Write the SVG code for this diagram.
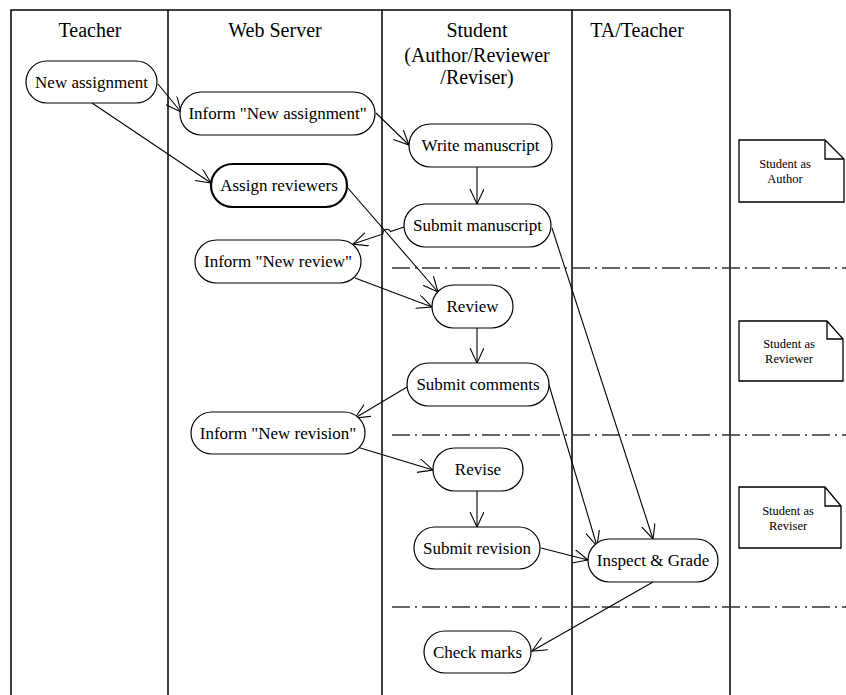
<svg xmlns="http://www.w3.org/2000/svg" width="846" height="695" viewBox="0 0 846 695">
<defs>
<style>
.lane{stroke:#000;stroke-width:1.5;fill:none}
.sep{stroke:#333;stroke-width:1.5;stroke-dasharray:18 5 2 5;fill:none}
.node rect{fill:#fff;stroke:#000;stroke-width:1.2}
.node.bold rect{stroke-width:2.2}
.node text{font-size:17px;fill:#000;text-anchor:middle}
.hdr{font-size:20px;fill:#000;text-anchor:middle}
.note path{fill:#fff;stroke:#000;stroke-width:1.3}
.note text{font-size:12.5px;fill:#000;text-anchor:middle}
.conn path,.conn line{stroke:#000;stroke-width:1.1;fill:none;marker-end:url(#arr)}
</style>
<marker id="arr" markerUnits="userSpaceOnUse" markerWidth="17" markerHeight="16" refX="15" refY="7" orient="auto">
<path d="M0,0 L15,7 L0,14" fill="none" stroke="#000" stroke-width="1.1"/>
</marker>
</defs>
<rect width="846" height="695" fill="#fff"/>
<g font-family="'Liberation Serif', Tinos, 'Times New Roman', 'DejaVu Serif', serif">
<g id="lanes">
<path class="lane" d="M11,695 V10 H730 V695 M168,10 V695 M382,10 V695 M572,10 V695"/>
<text class="hdr" x="90" y="37">Teacher</text>
<text class="hdr" x="275" y="37">Web Server</text>
<text class="hdr" x="477" y="37">Student</text>
<text class="hdr" x="477" y="62">(Author/Reviewer</text>
<text class="hdr" x="477" y="84">/Reviser)</text>
<text class="hdr" x="637" y="37">TA/Teacher</text>
</g>
<g id="separators">
<line class="sep" x1="392" y1="268" x2="846" y2="268"/>
<line class="sep" x1="392" y1="435" x2="846" y2="435"/>
<line class="sep" x1="392" y1="607" x2="846" y2="607"/>
</g>
<g id="connectors" class="conn">
<line x1="158" y1="84" x2="181" y2="112"/>
<line x1="92" y1="103" x2="211" y2="183"/>
<line x1="376" y1="113" x2="409" y2="145"/>
<line x1="477" y1="167" x2="477" y2="204"/>
<line x1="347" y1="187" x2="438" y2="292"/>
<path d="M404,227 L390.5,231.5 A4,4 0 0 0 383,234 L353,244"/>
<line x1="355" y1="278" x2="432" y2="307"/>
<line x1="477" y1="328" x2="477" y2="363"/>
<line x1="407" y1="387" x2="355" y2="418"/>
<line x1="552" y1="228" x2="653" y2="539"/>
<line x1="549" y1="385" x2="597" y2="546"/>
<line x1="357" y1="447" x2="433" y2="470"/>
<line x1="477" y1="491" x2="477" y2="527"/>
<line x1="541" y1="548" x2="588" y2="560"/>
<line x1="653" y1="582" x2="532" y2="651"/>
</g>
<g id="n-new-assignment" class="node"><rect x="26" y="61" width="131" height="42" rx="21"/><text x="91.5" y="88">New assignment</text></g>
<g id="n-inform-assignment" class="node"><rect x="180" y="92" width="195" height="43" rx="21.5"/><text x="277.5" y="119">Inform "New assignment"</text></g>
<g id="n-assign-reviewers" class="node bold"><rect x="211" y="164" width="136" height="43" rx="21.5"/><text x="279" y="191">Assign reviewers</text></g>
<g id="n-write" class="node"><rect x="409" y="124" width="143" height="43" rx="21.5"/><text x="480.5" y="151">Write manuscript</text></g>
<g id="n-submit-ms" class="node"><rect x="404" y="204" width="147" height="43" rx="21.5"/><text x="477.5" y="231">Submit manuscript</text></g>
<g id="n-inform-review" class="node"><rect x="195" y="240" width="166" height="43" rx="21.5"/><text x="278" y="267">Inform "New review"</text></g>
<g id="n-review" class="node"><rect x="432" y="285" width="81" height="43" rx="21.5"/><text x="472.5" y="312">Review</text></g>
<g id="n-submit-comments" class="node"><rect x="407" y="363" width="142" height="43" rx="21.5"/><text x="478" y="390">Submit comments</text></g>
<g id="n-inform-revision" class="node"><rect x="191" y="412" width="174" height="42" rx="21"/><text x="278" y="439">Inform "New revision"</text></g>
<g id="n-revise" class="node"><rect x="433" y="448" width="90" height="43" rx="21.5"/><text x="478" y="475">Revise</text></g>
<g id="n-submit-revision" class="node"><rect x="414" y="527" width="126" height="42" rx="21"/><text x="477" y="554">Submit revision</text></g>
<g id="n-inspect" class="node"><rect x="588" y="539" width="130" height="43" rx="21.5"/><text x="653" y="566">Inspect &amp; Grade</text></g>
<g id="n-check" class="node"><rect x="424" y="631" width="107" height="42" rx="21"/><text x="477.5" y="658">Check marks</text></g>
<g id="note-author" class="note"><path d="M739,140 H825 L844,159 V202 H739 Z M825,140 V159 H844"/><text x="785" y="168">Student as</text><text x="785" y="183">Author</text></g>
<g id="note-reviewer" class="note"><path d="M739,321 H827 L843,339 V381 H739 Z M827,321 V339 H843"/><text x="789" y="348">Student as</text><text x="789" y="363">Reviewer</text></g>
<g id="note-reviser" class="note"><path d="M739,487 H825 L841,506 V548 H739 Z M825,487 V506 H841"/><text x="788" y="515">Student as</text><text x="788" y="530">Reviser</text></g>
</g>
</svg>
